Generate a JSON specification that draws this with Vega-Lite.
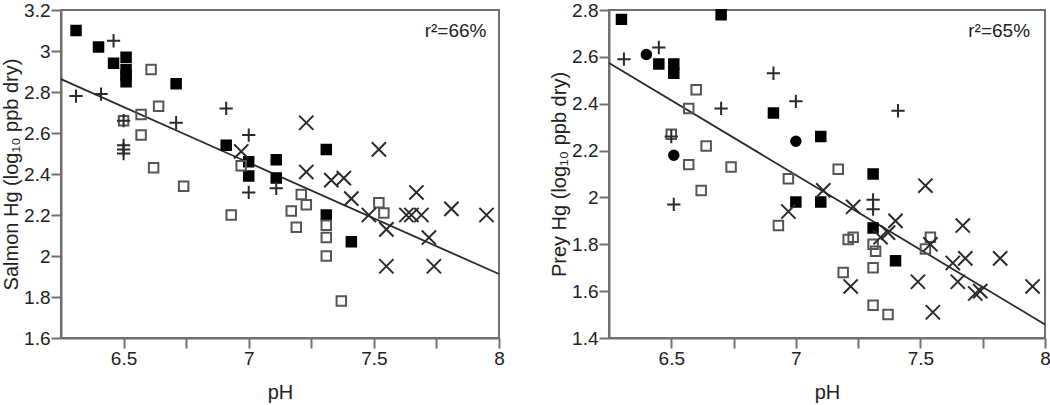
{
  "$schema": "https://vega.github.io/schema/vega-lite/v6.json",
  "padding": {"left": 0, "top": 0, "right": 0, "bottom": 0},
  "spacing": 42,
  "datasets": {
    "salmon": [
      {"pH": 6.31, "hg": 3.10, "type": "fs"},
      {"pH": 6.40, "hg": 3.02, "type": "fs"},
      {"pH": 6.46, "hg": 2.94, "type": "fs"},
      {"pH": 6.51, "hg": 2.97, "type": "fs"},
      {"pH": 6.51, "hg": 2.91, "type": "fs"},
      {"pH": 6.51, "hg": 2.88, "type": "fs"},
      {"pH": 6.51, "hg": 2.85, "type": "fs"},
      {"pH": 6.71, "hg": 2.84, "type": "fs"},
      {"pH": 6.91, "hg": 2.54, "type": "fs"},
      {"pH": 7.00, "hg": 2.46, "type": "fs"},
      {"pH": 7.00, "hg": 2.39, "type": "fs"},
      {"pH": 7.11, "hg": 2.47, "type": "fs"},
      {"pH": 7.11, "hg": 2.38, "type": "fs"},
      {"pH": 7.31, "hg": 2.52, "type": "fs"},
      {"pH": 7.31, "hg": 2.20, "type": "fs"},
      {"pH": 7.41, "hg": 2.07, "type": "fs"},
      {"pH": 6.61, "hg": 2.91, "type": "os"},
      {"pH": 6.64, "hg": 2.73, "type": "os"},
      {"pH": 6.57, "hg": 2.69, "type": "os"},
      {"pH": 6.50, "hg": 2.66, "type": "os"},
      {"pH": 6.57, "hg": 2.59, "type": "os"},
      {"pH": 6.62, "hg": 2.43, "type": "os"},
      {"pH": 6.74, "hg": 2.34, "type": "os"},
      {"pH": 6.93, "hg": 2.20, "type": "os"},
      {"pH": 6.97, "hg": 2.44, "type": "os"},
      {"pH": 7.21, "hg": 2.30, "type": "os"},
      {"pH": 7.23, "hg": 2.25, "type": "os"},
      {"pH": 7.17, "hg": 2.22, "type": "os"},
      {"pH": 7.19, "hg": 2.14, "type": "os"},
      {"pH": 7.31, "hg": 2.15, "type": "os"},
      {"pH": 7.31, "hg": 2.09, "type": "os"},
      {"pH": 7.31, "hg": 2.00, "type": "os"},
      {"pH": 7.52, "hg": 2.26, "type": "os"},
      {"pH": 7.54, "hg": 2.21, "type": "os"},
      {"pH": 7.37, "hg": 1.78, "type": "os"},
      {"pH": 6.46, "hg": 3.05, "type": "plus"},
      {"pH": 6.31, "hg": 2.78, "type": "plus"},
      {"pH": 6.41, "hg": 2.79, "type": "plus"},
      {"pH": 6.71, "hg": 2.65, "type": "plus"},
      {"pH": 6.91, "hg": 2.72, "type": "plus"},
      {"pH": 7.00, "hg": 2.59, "type": "plus"},
      {"pH": 7.00, "hg": 2.31, "type": "plus"},
      {"pH": 6.50, "hg": 2.54, "type": "plus"},
      {"pH": 6.50, "hg": 2.52, "type": "plus"},
      {"pH": 6.50, "hg": 2.50, "type": "plus"},
      {"pH": 6.50, "hg": 2.66, "type": "plus"},
      {"pH": 7.11, "hg": 2.33, "type": "plus"},
      {"pH": 6.97, "hg": 2.51, "type": "cross"},
      {"pH": 7.23, "hg": 2.65, "type": "cross"},
      {"pH": 7.23, "hg": 2.41, "type": "cross"},
      {"pH": 7.33, "hg": 2.37, "type": "cross"},
      {"pH": 7.38, "hg": 2.38, "type": "cross"},
      {"pH": 7.41, "hg": 2.28, "type": "cross"},
      {"pH": 7.48, "hg": 2.20, "type": "cross"},
      {"pH": 7.52, "hg": 2.52, "type": "cross"},
      {"pH": 7.55, "hg": 2.13, "type": "cross"},
      {"pH": 7.55, "hg": 1.95, "type": "cross"},
      {"pH": 7.63, "hg": 2.20, "type": "cross"},
      {"pH": 7.65, "hg": 2.20, "type": "cross"},
      {"pH": 7.69, "hg": 2.20, "type": "cross"},
      {"pH": 7.67, "hg": 2.31, "type": "cross"},
      {"pH": 7.72, "hg": 2.09, "type": "cross"},
      {"pH": 7.74, "hg": 1.95, "type": "cross"},
      {"pH": 7.81, "hg": 2.23, "type": "cross"},
      {"pH": 7.95, "hg": 2.20, "type": "cross"}
    ],
    "prey": [
      {"pH": 6.30, "hg": 2.76, "type": "fs"},
      {"pH": 6.70, "hg": 2.78, "type": "fs"},
      {"pH": 6.45, "hg": 2.57, "type": "fs"},
      {"pH": 6.51, "hg": 2.57, "type": "fs"},
      {"pH": 6.51, "hg": 2.53, "type": "fs"},
      {"pH": 6.91, "hg": 2.36, "type": "fs"},
      {"pH": 7.10, "hg": 2.26, "type": "fs"},
      {"pH": 7.31, "hg": 2.10, "type": "fs"},
      {"pH": 7.00, "hg": 1.98, "type": "fs"},
      {"pH": 7.10, "hg": 1.98, "type": "fs"},
      {"pH": 7.31, "hg": 1.87, "type": "fs"},
      {"pH": 7.40, "hg": 1.73, "type": "fs"},
      {"pH": 6.40, "hg": 2.61, "type": "fc"},
      {"pH": 6.51, "hg": 2.18, "type": "fc"},
      {"pH": 7.00, "hg": 2.24, "type": "fc"},
      {"pH": 6.60, "hg": 2.46, "type": "os"},
      {"pH": 6.57, "hg": 2.38, "type": "os"},
      {"pH": 6.50, "hg": 2.27, "type": "os"},
      {"pH": 6.64, "hg": 2.22, "type": "os"},
      {"pH": 6.57, "hg": 2.14, "type": "os"},
      {"pH": 6.74, "hg": 2.13, "type": "os"},
      {"pH": 6.62, "hg": 2.03, "type": "os"},
      {"pH": 6.97, "hg": 2.08, "type": "os"},
      {"pH": 7.17, "hg": 2.12, "type": "os"},
      {"pH": 6.93, "hg": 1.88, "type": "os"},
      {"pH": 7.21, "hg": 1.82, "type": "os"},
      {"pH": 7.23, "hg": 1.83, "type": "os"},
      {"pH": 7.31, "hg": 1.80, "type": "os"},
      {"pH": 7.32, "hg": 1.77, "type": "os"},
      {"pH": 7.31, "hg": 1.70, "type": "os"},
      {"pH": 7.19, "hg": 1.68, "type": "os"},
      {"pH": 7.31, "hg": 1.54, "type": "os"},
      {"pH": 7.37, "hg": 1.50, "type": "os"},
      {"pH": 7.54, "hg": 1.83, "type": "os"},
      {"pH": 7.52, "hg": 1.78, "type": "os"},
      {"pH": 6.31, "hg": 2.59, "type": "plus"},
      {"pH": 6.45, "hg": 2.64, "type": "plus"},
      {"pH": 6.70, "hg": 2.38, "type": "plus"},
      {"pH": 6.91, "hg": 2.53, "type": "plus"},
      {"pH": 7.00, "hg": 2.41, "type": "plus"},
      {"pH": 7.41, "hg": 2.37, "type": "plus"},
      {"pH": 6.51, "hg": 1.97, "type": "plus"},
      {"pH": 6.50, "hg": 2.26, "type": "plus"},
      {"pH": 7.31, "hg": 1.99, "type": "plus"},
      {"pH": 7.31, "hg": 1.95, "type": "plus"},
      {"pH": 7.11, "hg": 2.03, "type": "cross"},
      {"pH": 6.97, "hg": 1.94, "type": "cross"},
      {"pH": 7.22, "hg": 1.62, "type": "cross"},
      {"pH": 7.23, "hg": 1.96, "type": "cross"},
      {"pH": 7.40, "hg": 1.90, "type": "cross"},
      {"pH": 7.37, "hg": 1.85, "type": "cross"},
      {"pH": 7.34, "hg": 1.83, "type": "cross"},
      {"pH": 7.52, "hg": 2.05, "type": "cross"},
      {"pH": 7.67, "hg": 1.88, "type": "cross"},
      {"pH": 7.54, "hg": 1.80, "type": "cross"},
      {"pH": 7.63, "hg": 1.72, "type": "cross"},
      {"pH": 7.68, "hg": 1.74, "type": "cross"},
      {"pH": 7.82, "hg": 1.74, "type": "cross"},
      {"pH": 7.49, "hg": 1.64, "type": "cross"},
      {"pH": 7.65, "hg": 1.64, "type": "cross"},
      {"pH": 7.72, "hg": 1.59, "type": "cross"},
      {"pH": 7.74, "hg": 1.60, "type": "cross"},
      {"pH": 7.55, "hg": 1.51, "type": "cross"},
      {"pH": 7.95, "hg": 1.62, "type": "cross"}
    ],
    "salmonFit": [
      {"pH": 6.25, "hg": 2.863},
      {"pH": 8.0, "hg": 1.912}
    ],
    "preyFit": [
      {"pH": 6.25, "hg": 2.574},
      {"pH": 8.0, "hg": 1.458}
    ],
    "salmonR2": [{"pH": 7.95, "hg": 3.098, "label": "r²=66%"}],
    "preyR2": [{"pH": 7.94, "hg": 2.71, "label": "r²=65%"}]
  },
  "hconcat": [
    {
      "width": 438,
      "height": 328,
      "encoding": {
        "x": {"field": "pH", "type": "quantitative",
              "scale": {"domain": [6.25, 8], "nice": false, "zero": false},
              "axis": {"values": [6.5, 6.75, 7, 7.25, 7.5, 7.75, 8], "format": "~g",
                       "labelExpr": "(datum.value == 6.5 || datum.value == 7 || datum.value == 7.5 || datum.value == 8) ? datum.label : ''",
                       "title": "pH"}},
        "y": {"field": "hg", "type": "quantitative",
              "scale": {"domain": [1.6, 3.2], "nice": false, "zero": false},
              "axis": {"values": [1.6, 1.8, 2, 2.2, 2.4, 2.6, 2.8, 3, 3.2], "format": "~g",
                       "title": "Salmon Hg (log₁₀ ppb dry)"}}
      },
      "layer": [
        {
          "data": {"name": "salmonFit"},
          "mark": {"type": "line", "color": "#2a2a2a", "strokeWidth": 1.8},
          "encoding": {}
        },
        {
          "data": {"name": "salmon"},
          "mark": {"type": "point", "size": 90, "strokeWidth": 2, "opacity": 1},
          "encoding": {
            "shape": {"field": "type", "type": "nominal", "legend": null,
                      "scale": {"domain": ["fs", "os", "plus", "cross", "fc"],
                                "range": ["square", "square", "M-1.4,0H1.4M0,-1.4V1.4", "M-1.5,-1.5L1.5,1.5M-1.5,1.5L1.5,-1.5", "circle"]}},
            "fill": {"field": "type", "type": "nominal", "legend": null,
                     "scale": {"domain": ["fs", "os", "plus", "cross", "fc"],
                               "range": ["#000000", "transparent", "transparent", "transparent", "#000000"]}},
            "stroke": {"field": "type", "type": "nominal", "legend": null,
                       "scale": {"domain": ["fs", "os", "plus", "cross", "fc"],
                                 "range": ["#000000", "#555555", "#2a2a2a", "#2a2a2a", "#000000"]}}
          }
        },
        {
          "data": {"name": "salmonR2"},
          "mark": {"type": "text", "align": "right", "baseline": "middle", "fontSize": 19, "color": "#222222"},
          "encoding": {"text": {"field": "label"}}
        }
      ]
    },
    {
      "width": 436,
      "height": 328,
      "encoding": {
        "x": {"field": "pH", "type": "quantitative",
              "scale": {"domain": [6.25, 8], "nice": false, "zero": false},
              "axis": {"values": [6.5, 6.75, 7, 7.25, 7.5, 7.75, 8], "format": "~g",
                       "labelExpr": "(datum.value == 6.5 || datum.value == 7 || datum.value == 7.5 || datum.value == 8) ? datum.label : ''",
                       "title": "pH"}},
        "y": {"field": "hg", "type": "quantitative",
              "scale": {"domain": [1.4, 2.8], "nice": false, "zero": false},
              "axis": {"values": [1.4, 1.6, 1.8, 2, 2.2, 2.4, 2.6, 2.8], "format": "~g",
                       "title": "Prey Hg (log₁₀ ppb dry)"}}
      },
      "layer": [
        {
          "data": {"name": "preyFit"},
          "mark": {"type": "line", "color": "#2a2a2a", "strokeWidth": 1.8},
          "encoding": {}
        },
        {
          "data": {"name": "prey"},
          "mark": {"type": "point", "size": 90, "strokeWidth": 2, "opacity": 1},
          "encoding": {
            "shape": {"field": "type", "type": "nominal", "legend": null,
                      "scale": {"domain": ["fs", "os", "plus", "cross", "fc"],
                                "range": ["square", "square", "M-1.4,0H1.4M0,-1.4V1.4", "M-1.5,-1.5L1.5,1.5M-1.5,1.5L1.5,-1.5", "circle"]}},
            "fill": {"field": "type", "type": "nominal", "legend": null,
                     "scale": {"domain": ["fs", "os", "plus", "cross", "fc"],
                               "range": ["#000000", "transparent", "transparent", "transparent", "#000000"]}},
            "stroke": {"field": "type", "type": "nominal", "legend": null,
                       "scale": {"domain": ["fs", "os", "plus", "cross", "fc"],
                                 "range": ["#000000", "#555555", "#2a2a2a", "#2a2a2a", "#000000"]}}
          }
        },
        {
          "data": {"name": "preyR2"},
          "mark": {"type": "text", "align": "right", "baseline": "middle", "fontSize": 19, "color": "#222222"},
          "encoding": {"text": {"field": "label"}}
        }
      ]
    }
  ],
  "config": {
    "font": "Liberation Sans",
    "view": {"stroke": "#707070", "strokeWidth": 2},
    "axis": {
      "grid": false,
      "domainColor": "#707070",
      "domainWidth": 2,
      "tickColor": "#707070",
      "tickWidth": 2,
      "tickSize": 10,
      "labelFontSize": 19,
      "labelColor": "#222222",
      "labelPadding": 1,
      "labelFlush": false,
      "titleFontSize": 20,
      "titleFontWeight": "normal",
      "titleColor": "#222222"
    },
    "axisY": {"titlePadding": 2},
    "axisX": {"titlePadding": 14}
  }
}
